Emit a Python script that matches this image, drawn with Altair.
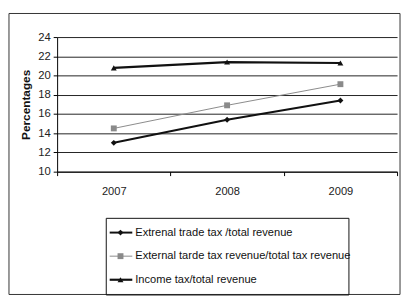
import altair as alt
import pandas as pd

years = ["2007", "2008", "2009"]
series = [
    "Extrenal trade tax /total revenue",
    "External tarde tax revenue/total tax revenue",
    "Income tax/total revenue",
]
ext_trade = [13.0, 15.4, 17.4]
ext_tarde = [14.5, 16.9, 19.1]
income_tax = [20.8, 21.4, 21.3]

colors = ["#111111", "#8a8a8a", "#111111"]
widths = [2, 1, 2.2]
shapes = ["diamond", "square", "triangle-up"]

rows = []
for name, vals in zip(series, [ext_trade, ext_tarde, income_tax]):
    for y, v in zip(years, vals):
        rows.append({"year": y, "series": name, "value": v})
df = pd.DataFrame(rows)
leg = pd.DataFrame({"series": series})

FONT = "Liberation Sans"
W, H = 346, 137

color = alt.Color("series:N", scale=alt.Scale(domain=series, range=colors), legend=None)
shape = alt.Shape("series:N", scale=alt.Scale(domain=series, range=shapes), legend=None)

x = alt.X("year:N", scale=alt.Scale(type="band", paddingInner=0, paddingOuter=0),
          axis=alt.Axis(title=None, labelAngle=0, tickBand="extent", domainColor="#000",
                        tickColor="#000", tickSize=4, labelPadding=10, labelFont=FONT,
                        labelFontSize=11.3, labelColor="#222", grid=False))
y = alt.Y("value:Q", scale=alt.Scale(domain=[10, 24], nice=False),
          axis=alt.Axis(title="Percentages", values=[10, 12, 14, 16, 18, 20, 22, 24],
                        tickCount=8, labelOverlap=False, grid=True,
                        gridColor="#222", gridWidth=1, domainColor="#000", tickColor="#000",
                        tickSize=4, labelPadding=3, labelFont=FONT, labelFontSize=11.5,
                        labelColor="#222", titleFont=FONT, titleFontSize=12,
                        titleFontWeight="bold", titleColor="#111", titlePadding=5))

frame = alt.Chart(pd.DataFrame({"k": [0]})).mark_rect(
    fill=None, stroke="#333", strokeWidth=1
).encode(x=alt.value(-49), x2=alt.value(W + 3), y=alt.value(-24), y2=alt.value(262))

layers = [frame]
for name, c, w in zip(series, colors, widths):
    layers.append(alt.Chart(df).transform_filter(alt.datum.series == name)
                  .mark_line(color=c, strokeWidth=w).encode(x=x, y=y))
layers.append(alt.Chart(df).mark_point(filled=True, size=36, opacity=1).encode(
    x="year:N", y="value:Q", color=color, shape=shape))

top = alt.layer(*layers).properties(width=W, height=H, view=alt.ViewBackground(stroke=None))

ly = alt.Y("series:N", scale=alt.Scale(type="point", domain=series, padding=0.625), axis=None)
llayers = []
for name, c, w in zip(series, colors, widths):
    llayers.append(alt.Chart(leg).transform_filter(alt.datum.series == name)
                   .mark_rule(color=c, strokeWidth=w).encode(x=alt.value(4), x2=alt.value(27), y=ly))
llayers.append(alt.Chart(leg).mark_point(filled=True, size=36, opacity=1).encode(
    x=alt.value(15), y=ly, color=color, shape=shape))
llayers.append(alt.Chart(leg).mark_text(align="left", baseline="middle", font=FONT, fontSize=11.3,
                                        color="#111").encode(x=alt.value(30), y=ly, text="series:N"))
bottom = alt.layer(*llayers).properties(
    width=247, height=78, view=alt.ViewBackground(stroke="#111", strokeWidth=1))

chart = alt.vconcat(top, bottom, spacing=47, center=True, bounds="flush").properties(
    padding={"left": 0, "top": 2, "right": 0, "bottom": 0},
).configure_view(stroke=None)

chart.save("out.html", embed_options={"renderer": "svg", "actions": False})
